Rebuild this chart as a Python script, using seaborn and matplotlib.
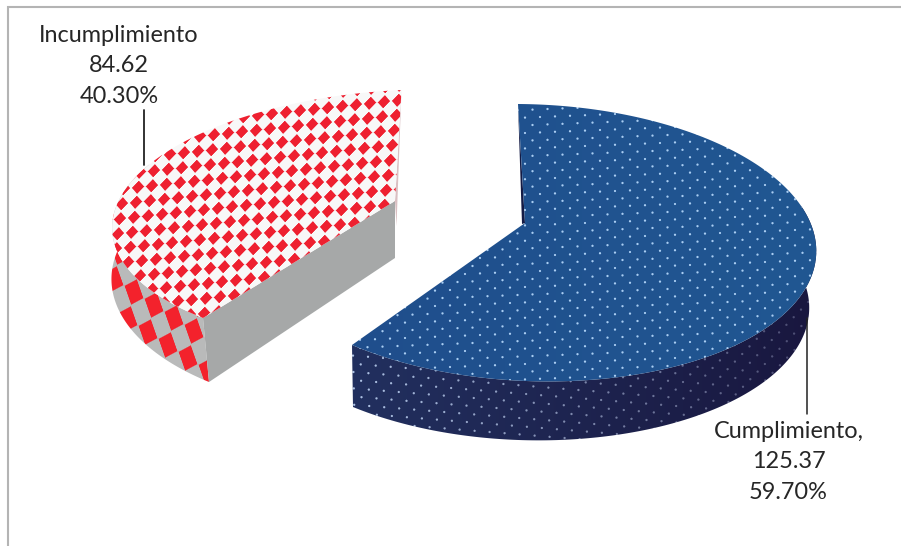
import numpy as np
import matplotlib
matplotlib.use("Agg")
import matplotlib.pyplot as plt
from matplotlib.patches import Polygon
import seaborn as sns

categories = ["Cumplimiento", "Incumplimiento"]
values = [125.37, 84.62]
label_templates = ["{name},\n{val:.2f}\n{pct:.2f}%", "{name}\n{val:.2f}\n{pct:.2f}%"]

sns.set_theme(style="white")
plt.rcParams["font.family"] = ["Lato", "DejaVu Sans"]
palette = sns.color_palette(["#1F4E8C", "#EE2030"])

W, H = 901, 546
fig = plt.figure(figsize=(W / 100, H / 100), dpi=100)
ax = fig.add_axes([0, 0, 1, 1])
ax.axis("off")

total = sum(values)
split = 2 * np.pi * values[0] / total  # clockwise angle from 12 o'clock where the first slice ends


def unit(t):
    return np.array([np.sin(t), np.cos(t)])


def homography(src, dst):
    A, b = [], []
    for (u, v), (x, y) in zip(src, dst):
        A.append([u, v, 1, 0, 0, 0, -x * u, -x * v]); b.append(x)
        A.append([0, 0, 0, u, v, 1, -y * u, -y * v]); b.append(y)
    h = np.linalg.solve(np.array(A, float), np.array(b, float))
    M = np.append(h, 1).reshape(3, 3)

    def f(t, r=1.0):
        t = np.atleast_1d(t)
        p = np.stack([r * np.sin(t), r * np.cos(t), np.ones_like(t)])
        q = M @ p
        return (q[:2] / q[2]).T
    return f


def plane(start, end, side, dst):
    """Perspective map of the unit disc onto the picture plane for a slice."""
    return homography([(0, 0), unit(start), unit(end), unit(side)], dst)


# --- projected slices ---------------------------------------------------
blue_top = plane(0, split, np.pi / 2, [(525, 223), (518, 104), (352, 345), (812, 227)])
blue_bot = plane(0, split, np.pi / 2, [(525, 283), (518, 165), (353, 407), (805, 284)])
red_top = plane(split, 2 * np.pi, 1.5 * np.pi, [(395, 201), (203, 318), (401.5, 90), (116, 207)])
red_bot = plane(split, 2 * np.pi, 1.5 * np.pi, [(395, 258), (209, 382), (401, 148), (117, 252)])

yy, xx = np.mgrid[0:H, 0:W] + 0.5


def diamonds(a, b, x0=0.0, y0=0.0):
    """Signed diamond-checker mask on the lattice spanned by a and b."""
    inv = np.linalg.inv(np.array([a, b]).T)
    s = inv[0, 0] * (xx - x0) + inv[0, 1] * (yy - y0)
    t = inv[1, 0] * (xx - x0) + inv[1, 1] * (yy - y0)
    return np.abs(s - np.floor(s) - 0.5) + np.abs(t - np.floor(t) - 0.5)


def dots(a, b, radius):
    inv = np.linalg.inv(np.array([a, b]).T)
    s = inv[0, 0] * xx + inv[0, 1] * yy
    t = inv[1, 0] * xx + inv[1, 1] * yy
    ds, dt = s - np.round(s), t - np.round(t)
    dx = a[0] * ds + b[0] * dt
    dy = a[1] * ds + b[1] * dt
    return np.clip(radius + 0.5 - np.hypot(dx, dy), 0, 1)[..., None]


def smooth_mask(field, level, px):
    return np.clip((level - field) / px + 0.5, 0, 1)[..., None]


def textured(img, poly, z):
    im = ax.imshow(img, extent=(0, W, H, 0), origin="upper", aspect="auto",
                   interpolation="nearest", zorder=z)
    im.set_clip_path(Polygon(poly, closed=True, transform=ax.transData))


def c(hexstr):
    return np.array(matplotlib.colors.to_rgb(hexstr))


# --- frame ---------------------------------------------------------------
ax.plot([8, 8, W], [H, 7, 7], color="#B4B4B4", lw=1.5, zorder=1, solid_joinstyle="miter")

# --- Incumplimiento slice ------------------------------------------------
red = np.array(palette[1])
th = np.linspace(split, 1.62 * np.pi, 80)
wall = np.vstack([red_top(th), red_bot(th[::-1])])
m = smooth_mask(diamonds((20, 13), (-6, 27), 3, 6), 0.47, 0.05)
textured(m * c("#F3222C") + (1 - m) * c("#B9BABA"), wall, 2)

ax.add_patch(Polygon(np.vstack([red_top(split), red_bot(split), [(395, 258)], [(395, 201)]]),
                     closed=True, fc="#A6A8A8", ec="none", zorder=3))
ax.add_patch(Polygon([red_top(2 * np.pi)[0], (395, 201), (396.5, 226)],
                     closed=True, fc="#D9BFC2", ec="none", zorder=3))

th = np.linspace(split, 2 * np.pi, 160)
face = np.vstack([[(395, 201)], red_top(th)])
m = smooth_mask(diamonds((14, -1.5), (-2, 15), 4, 2), 0.44, 0.08)
textured(m * red + (1 - m) * c("#F8F8F8"), face, 4)

# --- Cumplimiento slice --------------------------------------------------
ramp = np.clip((xx - 352) / 460, 0, 1)[..., None]
wall_base = c("#22305F") * (1 - ramp) + c("#19173F") * ramp
wall_dot = c("#AFC4E6") * (1 - ramp) + c("#4A4A70") * ramp
th = np.linspace(0.45 * np.pi, split, 160)
wall = np.vstack([blue_top(th), blue_bot(th[::-1])])
d = dots((15, 1.2), (7.3, -7.6), 1.1)
textured(d * wall_dot + (1 - d) * wall_base, wall, 5)

ax.add_patch(Polygon([blue_top(0.0)[0], (525, 223), (522, 224)],
                     closed=True, fc="#141B45", ec="none", zorder=5))

th = np.linspace(0, split, 240)
face = np.vstack([[(525, 223)], blue_top(th)])
base = np.array(palette[0]) * (1 - ramp) + c("#215792") * ramp
d = dots((15, -0.6), (7.5, 7.4), 1.1)
textured(d * c("#A9CDF2") + (1 - d) * base, face, 6)

# --- leader lines and labels --------------------------------------------
ax.plot([144, 144], [110, 165], color="#222222", lw=1.3, zorder=7)
ax.plot([806.8, 806.8], [318, 414], color="#222222", lw=1.1, zorder=7)

label_pos = [(788.5, 462), (119, 66)]
for name, val, tpl, (lx, ly) in zip(categories, values, label_templates, label_pos):
    ax.text(lx, ly, tpl.format(name=name, val=val, pct=val / total * 100),
            ha="center", va="center", fontsize=16.9, color="#262626",
            linespacing=1.56, zorder=8)

ax.set_xlim(0, W)
ax.set_ylim(H, 0)
fig.savefig("out.png", dpi=100, facecolor="white")
